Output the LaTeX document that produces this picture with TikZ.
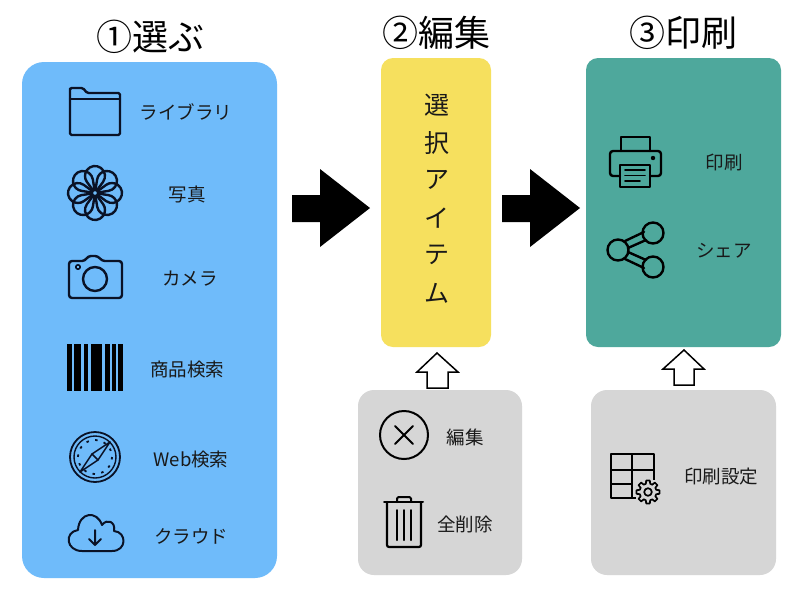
\documentclass[tikz,border=0pt]{standalone}
\usepackage{fontspec}
\setmainfont{Noto Sans CJK JP}
\definecolor{panelblue}{HTML}{6FBBFA}
\definecolor{panelyellow}{HTML}{F6E05E}
\definecolor{panelgreen}{HTML}{4EA89C}
\definecolor{panelgray}{HTML}{D6D6D6}
\definecolor{ink}{HTML}{0A1226}
\tikzset{
  panel/.style={inner sep=0pt,outer sep=0pt},
  title/.style={font=\fontsize{36}{36}\selectfont,text=black,inner sep=0pt},
  lab/.style={font=\fontsize{18.5}{18.5}\selectfont,text=black!90,inner sep=0pt},
  vtext/.style={font=\fontsize{25}{25}\selectfont,text=black!90,inner sep=0pt},
  icon/.style={draw=ink,line width=2.4pt,line join=round,line cap=round},
  kicon/.style={icon,draw=black},
  blockarrow/.style={fill=black,draw=none},
  hollowarrow/.style={fill=white,draw=black,line width=1.5pt,line join=miter},
}
\begin{document}
\begin{tikzpicture}[x=1pt,y=1pt,yscale=-1]
\useasboundingbox (0,0) rectangle (800,600);
\fill[white] (0,0) rectangle (800,600);
% panels
\node[panel,fill=panelblue,rounded corners=22pt,minimum width=255pt,minimum height=516pt] (pblue) at (149.5,320) {};
\node[panel,fill=panelyellow,rounded corners=12pt,minimum width=110pt,minimum height=289pt] (pyellow) at (436,202.5) {};
\node[panel,fill=panelgreen,rounded corners=12pt,minimum width=195pt,minimum height=289pt] (pgreen) at (683.5,202.5) {};
\node[panel,fill=panelgray,rounded corners=16pt,minimum width=164pt,minimum height=185pt] (pgray1) at (440,482.5) {};
\node[panel,fill=panelgray,rounded corners=16pt,minimum width=185pt,minimum height=185pt] (pgray2) at (683.5,482.5) {};
% titles
\node[title] (t1) at (150,37) {①選ぶ};
\node[title] (t2) at (436,33) {②編集};
\node[title] (t3) at (683,33) {③印刷};
% block arrows
\fill[blockarrow] (292,195)--(320,195)--(320,169)--(370,208)--(320,247)--(320,222)--(292,222)--cycle;
\fill[blockarrow] (502,195)--(530,195)--(530,169)--(580,208)--(530,247)--(530,222)--(502,222)--cycle;
% hollow arrows
\draw[hollowarrow] (427,388)--(427,372)--(417,372)--(437,353)--(458,372)--(448,372)--(448,388)--cycle;
\draw[hollowarrow] (674,385)--(674,369)--(663,369)--(684,350)--(704,369)--(694,369)--(694,385)--cycle;
% labels
\node[lab] (l1) at (186,112) {ライブラリ};
\node[lab] (l2) at (187,194) {写真};
\node[lab] (l3) at (190,279) {カメラ};
\node[lab] (l4) at (187,369) {商品検索};
\node[lab] (l5) at (191,459) {Web検索};
\node[lab] (l6) at (191,536) {クラウド};
\node[lab] (l7) at (465,437) {編集};
\node[lab] (l8) at (465,524) {全削除};
\node[lab] (l9) at (724,162) {印刷};
\node[lab] (l10) at (724,251) {シェア};
\node[lab] (l11) at (721,477) {印刷設定};
\node[vtext] (v1) at (437,105) {選};
\node[vtext] (v2) at (437,143) {択};
\node[vtext] (v3) at (437,180) {ア};
\node[vtext] (v4) at (437,218) {イ};
\node[vtext] (v5) at (437,255) {テ};
\node[vtext] (v6) at (437,293) {ム};
% folder
\draw[icon,rounded corners=1.5pt] (70,90)--(70,135)--(120,135)--(120,93)--(87,93)--(83,88)--(70,88)--cycle;
\draw[icon] (70,99)--(120,99);
% flower
\foreach \a in {0,45,...,315}{
  \draw[icon,shift={(95,193)},rotate=\a] (0,0)--(11.12,8.08) arc[start angle=126,delta angle=-252,radius=10]--cycle;
}
\draw[icon,fill=panelblue] (95,193) circle[radius=3.2];
% camera
\draw[icon,rounded corners=3pt] (69,261)--(85,261)--(88,256)--(98,256)--(102,261)--(122,261)--(122,298)--(69,298)--cycle;
\draw[icon] (95,279) circle[radius=12];
\draw[icon,line width=1.6pt] (78,267) circle[radius=2.2];
% barcode
\foreach \l/\r in {67/72,73.7/81.3,83.7/88,90.7/102.3,105/109.7,111.7/116.3,118.3/123.3}{
  \fill[black] (\l,344) rectangle (\r,391);
}
% compass
\draw[icon,line width=1.8pt] (95,457) circle[radius=25];
\draw[icon,line width=1.4pt] (95,457) circle[radius=21];
\draw[icon,line width=1.8pt,line cap=butt,dash pattern=on 2.5pt off 6.4pt] (95,457) circle[radius=17];
\draw[icon,line width=1.5pt,fill=panelblue] (110,442)--(98,460)--(80,472)--(92,454)--cycle;
\draw[icon,line width=1.5pt] (92,454)--(98,460);
% cloud
\draw[icon,line width=2pt] (82,551) .. controls (66,551) and (64,532) .. (78,530) .. controls (79,512) and (97,510) .. (102,525) .. controls (107,518) and (116,522) .. (114,531) .. controls (127,532) and (127,551) .. (112,551) -- cycle;
\draw[icon,line width=2pt] (95,530)--(95,545) (89,539)--(95,545)--(101,539);
% cross circle
\draw[kicon,line width=2pt] (404,435) circle[radius=24];
\draw[kicon,line width=2pt] (395,426)--(413,444) (413,426)--(395,444);
% trash
\draw[kicon,line width=2pt] (384,502)--(423,502);
\draw[kicon,line width=2pt,rounded corners=1.5pt] (397,502)--(397,497)--(411,497)--(411,502);
\draw[kicon,line width=2.2pt,rounded corners=2pt] (387,502)--(387,547)--(421,547)--(421,502);
\draw[kicon,line width=2pt] (397,510)--(397,540) (404,510)--(404,540) (411,510)--(411,540);
% printer
\draw[kicon] (621,151)--(621,137)--(650,137)--(650,151);
\draw[kicon,rounded corners=3pt] (620,176)--(610,176)--(610,151)--(661,151)--(661,176)--(650,176);
\draw[kicon] (620,165) rectangle (650,187);
\draw[kicon,line width=1.9pt] (625,170)--(645,170) (625,175.5)--(645,175.5) (625,181)--(640,181);
\fill[black] (653,158) circle[radius=2.2];
% share
\draw[kicon] (618,250) circle[radius=10.5];
\draw[kicon] (653,233) circle[radius=10.5];
\draw[kicon] (653,267) circle[radius=10.5];
\draw[kicon] (625,241)--(644,232) (628,248)--(646,240);
\draw[kicon] (625,259)--(644,268) (628,252)--(646,260);
% table + gear
\draw[kicon,line cap=butt] (636,498)--(611,498)--(611,454)--(654,454)--(654,480);
\draw[kicon,line cap=butt] (632,454)--(632,498) (611,470)--(654,470) (611,484)--(632,484);
\foreach \a in {0,45,...,315}{
  \draw[kicon,line width=1.7pt,shift={(648,492)},rotate=\a] (8.2,-2.2)--(11.5,-1.8)--(11.5,1.8)--(8.2,2.2) arc[start angle=15.4,end angle=29.6,radius=8.5];
}
\draw[kicon,line width=1.7pt] (648,492) circle[radius=3.8];
\end{tikzpicture}
\end{document}
